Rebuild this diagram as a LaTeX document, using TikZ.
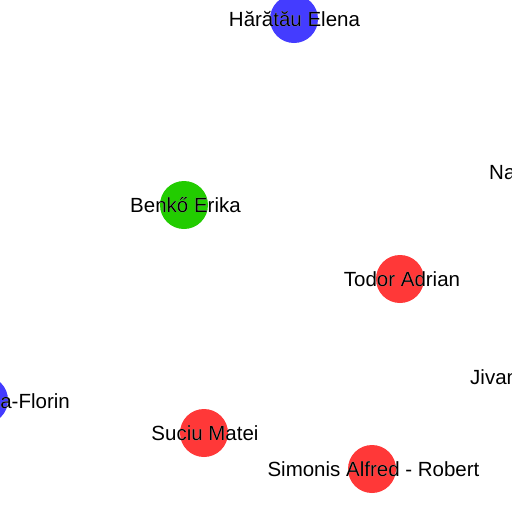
\documentclass[tikz,border=0pt]{standalone}
\usepackage{fontspec}
\setmainfont{Liberation Sans}
\usepackage[outline]{contour}
\contourlength{1.2pt}
\definecolor{nblue}{RGB}{68,60,255}
\definecolor{ngreen}{RGB}{34,204,0}
\definecolor{nred}{RGB}{255,56,56}
\begin{document}
\begin{tikzpicture}[x=1pt,y=-1pt,
  dot/.style={circle,inner sep=0pt,minimum size=48pt},
  lbl/.style={font=\fontsize{20.5}{24}\selectfont,inner sep=0pt,text=black}]
\useasboundingbox (0,0) rectangle (512,512);
\clip (0,0) rectangle (512,512);
\fill[white] (0,0) rectangle (512,512);
\node[dot,fill=nblue] (h) at (294,19) {};
\node[dot,fill=ngreen] (b) at (184,205) {};
\node[dot,fill=nred] (t) at (400,279) {};
\node[dot,fill=nblue] (f) at (-16,400) {};
\node[dot,fill=nred] (s) at (204,433) {};
\node[dot,fill=nred] (a) at (372,469) {};
\node[lbl] (hl) at (294.5,19) {\contour{white}{Hărătău Elena}};
\node[lbl] (bl) at (185.5,205) {\contour{white}{Benkő Erika}};
\node[lbl] (tl) at (402,279) {\contour{white}{Todor Adrian}};
\node[lbl,anchor=west] (nl) at (489,173) {\contour{white}{Na}\vphantom{H}};
\node[lbl,anchor=west] (jl) at (470,377) {\contour{white}{Jivan}};
\node[lbl,anchor=east] (fl) at (70,401) {\contour{white}{a-Florin}};
\node[lbl] (sl) at (205,433) {\contour{white}{Suciu Matei}};
\node[lbl] (al) at (373.5,469) {\contour{white}{Simonis Alfred - Robert}};
\end{tikzpicture}
\end{document}
